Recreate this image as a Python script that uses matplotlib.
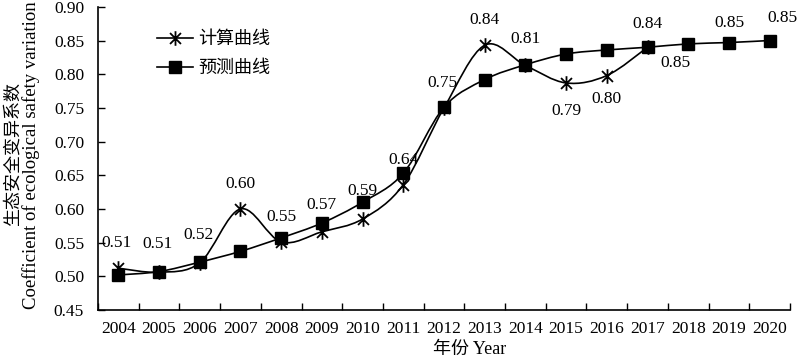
import numpy as np
import matplotlib.pyplot as plt
from matplotlib.path import Path
from matplotlib.patches import PathPatch
from matplotlib.lines import Line2D

plt.rcParams['font.family'] = ['Liberation Serif', 'Noto Sans CJK SC']

# data
years = [2004, 2005, 2006, 2007, 2008, 2009, 2010, 2011, 2012,
         2013, 2014, 2015, 2016, 2017, 2018, 2019, 2020]
calc = [0.512, 0.506, 0.520, 0.600, 0.551, 0.566, 0.585, 0.636, 0.750,
        0.843, 0.813, 0.787, 0.798, 0.840]
pred = [0.502, 0.507, 0.521, 0.537, 0.557, 0.579, 0.610, 0.653, 0.751,
        0.792, 0.814, 0.830, 0.836, 0.840, 0.845, 0.847, 0.850]
labels = ['0.51', '0.51', '0.52', '0.60', '0.55', '0.57', '0.59', '0.64', '0.75',
          '0.84', '0.81', '0.79', '0.80', '0.84', '0.85', '0.85', '0.85']
# label offsets in points (dx, dy)
offsets = [(-1, 18), (-1, 20), (-1, 20), (0, 18), (0, 18), (0, 19), (0, 20), (0, 18),
           (-1, 18), (0, 18), (0, 19), (0, -20), (0, -17), (0, 17), (-9, -14),
           (0, 14), (9, 16)]


def smooth_path(x, y):
    n = len(x)
    verts = [(x[0], y[0])]
    codes = [Path.MOVETO]
    for i in range(n - 1):
        a = max(i - 1, 0)
        b = min(i + 2, n - 1)
        c1 = (x[i] + (x[i + 1] - x[a]) / 6, y[i] + (y[i + 1] - y[a]) / 6)
        c2 = (x[i + 1] - (x[b] - x[i]) / 6, y[i + 1] - (y[b] - y[i]) / 6)
        verts += [c1, c2, (x[i + 1], y[i + 1])]
        codes += [Path.CURVE4] * 3
    return Path(verts, codes)


star = Path([(0, -1), (0, 1), (-0.75, -0.75), (0.75, 0.75), (-0.75, 0.75), (0.75, -0.75)],
            [Path.MOVETO, Path.LINETO] * 3)

fig = plt.figure(figsize=(8, 3.6), dpi=100)
ax = fig.add_axes([0.1225, 0.139, 0.865, 0.842])

xc = np.arange(len(calc))
xp = np.arange(len(pred))

ax.add_patch(PathPatch(smooth_path(xp, pred), facecolor='none', edgecolor='black', lw=1.2, zorder=2))
ax.add_patch(PathPatch(smooth_path(xc, calc), facecolor='none', edgecolor='black', lw=1.2, zorder=2))
ax.plot(xp, pred, ls='none', marker='s', ms=8, color='black', zorder=3)
ax.plot(xc, calc, ls='none', marker=star, ms=10.5, mew=1.3, color='black', zorder=4)

for i, lab in enumerate(labels):
    yv = calc[i] if i < len(calc) else pred[i]
    ax.annotate(lab, (i, yv), xytext=offsets[i], textcoords='offset points',
                ha='center', va='center', fontsize=12.5, annotation_clip=False)

ax.set_xlim(-0.5, len(years) - 0.5)
ax.set_ylim(0.45, 0.90)
ax.set_yticks(np.arange(0.45, 0.901, 0.05))
ax.set_yticklabels(['%.2f' % v for v in np.arange(0.45, 0.901, 0.05)])
ax.set_xticks(np.arange(-0.5, len(years), 1.0))
ax.set_xticklabels([])
ax.set_xticks(np.arange(len(years)), minor=True)
ax.set_xticklabels([str(y) for y in years], minor=True)
ax.tick_params(axis='x', which='major', direction='in', length=5, width=1)
ax.tick_params(axis='x', which='minor', length=0, pad=8, labelsize=12.5)
ax.tick_params(axis='y', direction='in', length=5, width=1, labelsize=12.5, pad=10)
for s in ['top', 'right']:
    ax.spines[s].set_visible(False)
for s in ['left', 'bottom']:
    ax.spines[s].set_linewidth(1.2)

fig.text(0.587, 0.028, '年份 Year', ha='center', va='center', fontsize=13)
fig.text(0.016, 0.572, '生态安全变异系数', rotation=90, ha='center', va='center', fontsize=13)
fig.text(0.039, 0.569, 'Coefficient of ecological safety variation', rotation=90,
         ha='center', va='center', fontsize=13.5)

handles = [Line2D([], [], color='black', lw=1.2, marker=star, ms=10.5, mew=1.3),
           Line2D([], [], color='black', lw=1.2, marker='s', ms=8)]
ax.legend(handles, ['计算曲线', '预测曲线'], loc='upper left', bbox_to_anchor=(0.085, 0.92),
          frameon=False, fontsize=13, handlelength=2.0, handletextpad=0.3,
          labelspacing=0.67, borderpad=0, borderaxespad=0)

fig.savefig('out.png', dpi=100)
